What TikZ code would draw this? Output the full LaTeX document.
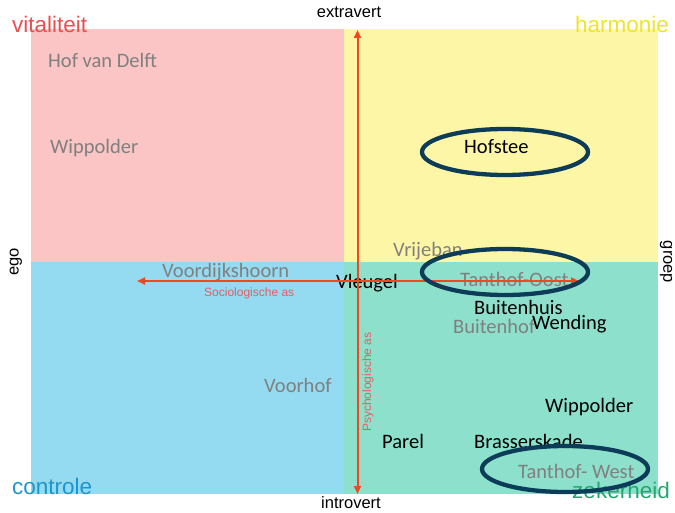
\documentclass[tikz,border=0pt]{standalone}
\usepackage{fontspec}
\setmainfont{Carlito}
\newfontfamily\arialfont{Liberation Sans}
\usetikzlibrary{shapes.geometric,arrows.meta}

\definecolor{qpink}{RGB}{250,197,196}
\definecolor{qyellow}{RGB}{253,246,166}
\definecolor{qblue}{RGB}{148,218,240}
\definecolor{qteal}{RGB}{141,224,203}
\definecolor{vitred}{RGB}{233,78,80}
\definecolor{harmyellow}{RGB}{238,228,40}
\definecolor{ctrlblue}{RGB}{28,150,205}
\definecolor{zekgreen}{RGB}{32,168,110}
\definecolor{axisred}{RGB}{242,72,32}
\definecolor{axislabel}{RGB}{232,92,100}
\definecolor{placegray}{RGB}{128,128,128}
\definecolor{ringblue}{RGB}{12,60,88}

\tikzset{
  place/.style={font=\fontsize{20.5}{23}\selectfont, inner sep=0pt, anchor=base west},
  softplace/.style={place, text=placegray},
  hardplace/.style={place, text=black},
  corner/.style={font=\arialfont\fontsize{22.5}{25}\selectfont, inner sep=0pt},
  pole/.style={font=\arialfont\fontsize{16.5}{19}\selectfont, inner sep=0pt, text=black},
  axisname/.style={font=\arialfont\fontsize{12}{14}\selectfont, inner sep=0pt, text=axislabel},
  axisline/.style={draw=axisred, line width=2pt, {Triangle[length=8pt,width=7pt]}-{Triangle[length=8pt,width=7pt]}},
  ring/.style={draw=ringblue, line width=4.3pt, ellipse, minimum width=166pt, minimum height=46pt, inner sep=0pt},
}

\begin{document}
\begin{tikzpicture}[x=1pt,y=-1pt]
  \useasboundingbox (0,0) rectangle (675,513);

  % quadrants
  \fill[qpink]   (31,29)  rectangle (344,262);
  \fill[qyellow] (344,29) rectangle (658,262);
  \fill[qblue]   (31,262) rectangle (344,494);
  \fill[qteal]   (344,262) rectangle (658,494);

  % corner labels
  \node[corner, text=vitred, anchor=base west] (vit) at (12,33) {vitaliteit};
  \node[corner, text=harmyellow, anchor=base east] (harm) at (669,33) {harmonie};
  \node[corner, text=ctrlblue, anchor=base west] (ctrl) at (12,494) {controle};
  \node[corner, text=zekgreen, anchor=base east] (zek) at (670,498) {zekerheid};

  % poles of the axes
  \node[pole, anchor=base] (extra) at (349,18) {extravert};
  \node[pole, anchor=base] (intro) at (351,508) {introvert};
  \node[pole, rotate=90] (ego) at (16,262) {ego};
  \node[pole, rotate=-90] (groep) at (666,262) {groep};

  % axes
  \coordinate (ytop) at (357.5,30);
  \coordinate (ybot) at (357.5,494);
  \coordinate (xleft) at (137,281);
  \coordinate (xright) at (579,281);

  % place names (grey)
  \node[softplace] (hvd)  at (48,68)   {Hof van Delft};
  \node[softplace] (wip1) at (50,154)  {Wippolder};
  \node[softplace] (vrij) at (393,257) {Vrijeban};
  \node[softplace] (voord) at (162,278) {Voordijkshoorn};
  \node[softplace] (tho)  at (460,287) {Tanthof-Oost};
  \node[softplace] (bhof) at (453,334) {Buitenhof};
  \node[softplace] (vhof) at (264,392) {Voorhof};
  \node[softplace] (thw)  at (518,478) {Tanthof- West};

  % place names (black)
  \node[hardplace] (hof)  at (464,154) {Hofstee};
  \node[hardplace] (vleu) at (336,288) {Vleugel};
  \node[hardplace] (bhuis) at (474,314) {Buitenhuis};
  \node[hardplace] (wend) at (532,329) {Wending};
  \node[hardplace] (wip2) at (545,412) {Wippolder};
  \node[hardplace] (parel) at (382,448) {Parel};
  \node[hardplace] (bras) at (474,448) {Brasserskade};

  % axes drawn over the names
  \draw[axisline] (ybot) -- (ytop);
  \draw[axisline] (xleft) -- (xright);
  \node[axisname, anchor=base west] (socas) at (204,296) {Sociologische as};
  \node[axisname, rotate=90] (psyas) at (368,382) {Psychologische as};

  % highlighted neighbourhoods
  \node[ring] (r1) at (505,152) {};
  \node[ring] (r2) at (505,272) {};
  \node[ring] (r3) at (565,469) {};
\end{tikzpicture}
\end{document}
